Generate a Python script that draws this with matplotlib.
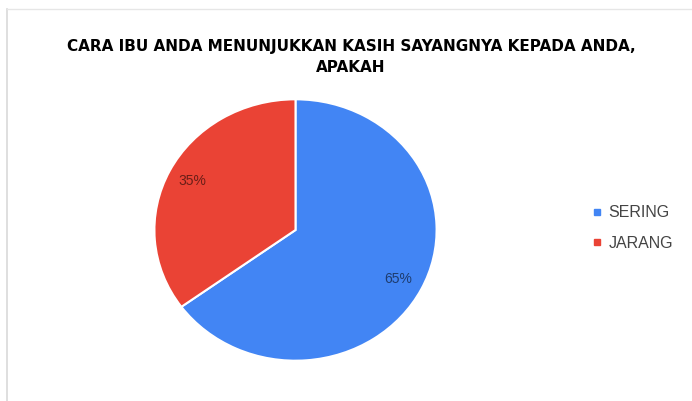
import matplotlib.pyplot as plt
from matplotlib.lines import Line2D

title = "CARA IBU ANDA MENUNJUKKAN KASIH SAYANGNYA KEPADA ANDA,\nAPAKAH"
labels = ["SERING", "JARANG"]
shares = [65, 35]
colors = ["#4285F4", "#EA4335"]

fig = plt.figure(figsize=(6.92, 4.01), dpi=100)
fig.patch.set_facecolor("white")

# thin grey frame along the top and left edge
fig.add_artist(Line2D([7 / 692, 7 / 692], [0, 1 - 9 / 401], color="#d9d9d9", lw=1.2))
fig.add_artist(Line2D([7 / 692, 1], [1 - 9 / 401, 1 - 9 / 401], color="#e6e6e6", lw=1.0))

fig.text(351 / 692, 1 - 57 / 401, title, ha="center", va="center",
         fontsize=11, fontweight="heavy", family="DejaVu Sans",
         color="#000000", linespacing=1.45)

ax = fig.add_axes([153 / 692, 39 / 401, 285 / 692, 264 / 401])
wedges, texts, autotexts = ax.pie(
    shares, colors=colors, startangle=90, counterclock=False,
    autopct="%d%%", pctdistance=0.82,
    wedgeprops=dict(edgecolor="white", linewidth=1.5),
    textprops=dict(fontsize=10, color="black", alpha=0.55,
                   family="Liberation Sans"),
)
ax.set_aspect("auto")
ax.set_xlim(-1.01, 1.01)
ax.set_ylim(-1.01, 1.01)

handles = [Line2D([], [], marker="s", linestyle="", markersize=4,
                  color=c) for c in colors]
leg = fig.legend(handles, labels, loc="center left",
                 bbox_to_anchor=(578 / 692, 1 - 228 / 401), frameon=False,
                 prop=dict(family="Liberation Sans", size=11.5),
                 handlelength=0.6, handletextpad=0.4,
                 labelspacing=0.95, labelcolor="#444444")

fig.savefig("out.png", dpi=100)
